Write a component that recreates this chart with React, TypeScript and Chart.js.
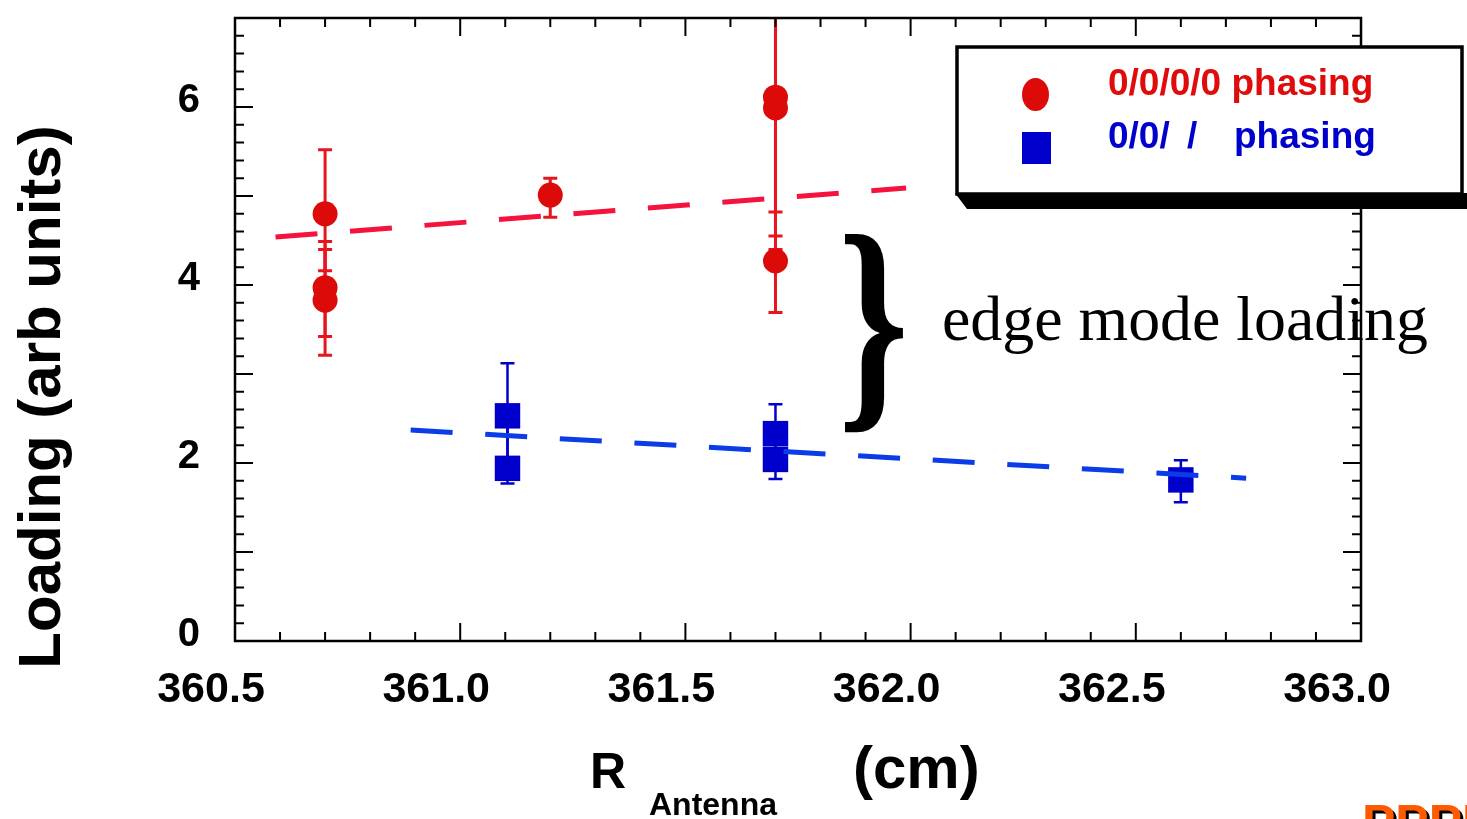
import React, { useEffect, useRef } from 'react';
import { Chart, registerables } from 'chart.js';

Chart.register(...registerables);

// ---- data ----
const redR = [360.70, 360.70, 360.70, 361.20, 361.70, 361.70, 361.70];
const redLoading = [4.80, 3.97, 3.83, 5.01, 6.11, 5.99, 4.27];
const redErrLow = [4.16, 3.42, 3.21, 4.76, 4.55, 4.40, 3.69];
const redErrHigh = [5.52, 4.49, 4.40, 5.20, 7.60, 7.60, 4.82];

const blueR = [361.105, 361.105, 361.70, 361.70, 362.60];
const blueLoading = [2.53, 1.94, 2.33, 2.04, 1.81];
const blueErrLow = [1.94, 1.77, 2.04, 1.82, 1.56];
const blueErrHigh = [3.12, 2.53, 2.66, 2.33, 2.03];

const redFitR = [360.59, 361.99];
const redFitLoading = [4.54, 5.09];
const blueFitR = [360.89, 362.745];
const blueFitLoading = [2.37, 1.83];

const xMin = 360.5;
const xMax = 363.0;
const xLabelStep = 0.5;
const xMinorStep = 0.1;
const yMin = 0;
const yMax = 7;
const yLabelValues = [0, 2, 4, 6];
const yMinorStep = 0.2;

const yTitle = 'Loading (arb units)';
const xTitleMain = 'R';
const xTitleSub = 'Antenna';
const xTitleUnit = '(cm)';
const legendRed = '0/0/0/0 phasing';
const legendBlueParts = ['0/0/', '/', 'phasing'];
const annotationText = 'edge mode loading';
const logoText = 'PPPL';

const RED_PT = '#dd0a0a';
const RED_LINE = '#f5123c';
const BLUE_PT = '#0000cc';
const BLUE_LINE = '#0a3ce8';
const SANS = '"Liberation Sans", Arial, sans-serif';
const SERIF = '"Liberation Serif", "Times New Roman", serif';

const mkPts = (xs: number[], ys: number[], lo?: number[], hi?: number[]) =>
  xs.map((x, i) => ({ x, y: ys[i], yMin: lo ? lo[i] : ys[i], yMax: hi ? hi[i] : ys[i] }));

const decorPlugin = {
  id: 'decor',
  beforeDatasetsDraw(chart: any) {
    const { ctx, chartArea: ca, scales } = chart;
    const xs = scales.x;
    const ys = scales.y;
    ctx.save();
    ctx.beginPath();
    ctx.rect(ca.left, ca.top, ca.right - ca.left, ca.bottom - ca.top);
    ctx.clip();
    chart.data.datasets.forEach((ds: any) => {
      if (!ds.errorBars) return;
      ctx.strokeStyle = ds.errColor;
      ctx.lineWidth = ds.errWidth;
      const cw = 7;
      ds.data.forEach((p: any) => {
        const px = xs.getPixelForValue(p.x);
        const lo = ys.getPixelForValue(p.yMin);
        const hi = ys.getPixelForValue(p.yMax);
        ctx.beginPath();
        ctx.moveTo(px, lo);
        ctx.lineTo(px, hi);
        ctx.moveTo(px - cw, lo);
        ctx.lineTo(px + cw, lo);
        ctx.moveTo(px - cw, hi);
        ctx.lineTo(px + cw, hi);
        ctx.stroke();
      });
    });
    ctx.restore();
  },
  afterDraw(chart: any) {
    const { ctx, chartArea: ca, scales } = chart;
    const xs = scales.x;
    const ys = scales.y;
    ctx.save();
    // frame
    ctx.strokeStyle = '#000';
    ctx.lineWidth = 2.5;
    ctx.strokeRect(ca.left, ca.top, ca.right - ca.left, ca.bottom - ca.top);
    // ticks
    ctx.lineWidth = 2;
    ctx.beginPath();
    const nx = Math.round((xMax - xMin) / xMinorStep);
    for (let i = 0; i <= nx; i++) {
      const px = xs.getPixelForValue(xMin + i * xMinorStep);
      const L = i % 5 === 0 ? 18 : 9;
      ctx.moveTo(px, ca.bottom);
      ctx.lineTo(px, ca.bottom - L);
      ctx.moveTo(px, ca.top);
      ctx.lineTo(px, ca.top + L);
    }
    const ny = Math.round((yMax - yMin) / yMinorStep);
    for (let i = 0; i <= ny; i++) {
      const py = ys.getPixelForValue(yMin + i * yMinorStep);
      const L = i % 5 === 0 ? 18 : 9;
      ctx.moveTo(ca.left, py);
      ctx.lineTo(ca.left + L, py);
      ctx.moveTo(ca.right, py);
      ctx.lineTo(ca.right - L, py);
    }
    ctx.stroke();

    // y title
    ctx.fillStyle = '#000';
    ctx.save();
    ctx.translate(60, 397);
    ctx.rotate(-Math.PI / 2);
    ctx.font = `bold 60px ${SANS}`;
    ctx.textAlign = 'center';
    ctx.textBaseline = 'alphabetic';
    ctx.fillText(yTitle, 0, 0);
    ctx.restore();

    // x title
    ctx.textAlign = 'left';
    ctx.textBaseline = 'alphabetic';
    ctx.font = `bold 50px ${SANS}`;
    ctx.fillText(xTitleMain, 590, 788);
    ctx.font = `bold 32px ${SANS}`;
    ctx.fillText(xTitleSub, 649, 815);
    ctx.font = `bold 60px ${SANS}`;
    ctx.fillText(xTitleUnit, 853, 788);

    // brace
    ctx.save();
    ctx.font = `bold 232px ${SERIF}`;
    const bm = ctx.measureText('}');
    const bw = bm.actualBoundingBoxLeft + bm.actualBoundingBoxRight;
    const bh = bm.actualBoundingBoxAscent + bm.actualBoundingBoxDescent;
    ctx.translate(845, 234);
    ctx.scale(58 / bw, 198 / bh);
    ctx.fillText('}', bm.actualBoundingBoxLeft, bm.actualBoundingBoxAscent);
    ctx.restore();

    // annotation
    ctx.font = `63px ${SERIF}`;
    const aw = ctx.measureText(annotationText).width;
    const asz = 63 * 486 / aw;
    ctx.font = `${asz}px ${SERIF}`;
    ctx.fillText(annotationText, 942, 340);

    // legend box
    ctx.fillStyle = '#000';
    ctx.beginPath();
    ctx.moveTo(955, 193);
    ctx.lineTo(967, 209);
    ctx.lineTo(1480, 209);
    ctx.lineTo(1480, 193);
    ctx.closePath();
    ctx.fill();
    ctx.fillStyle = '#fff';
    ctx.fillRect(957, 47, 505, 147);
    ctx.strokeStyle = '#000';
    ctx.lineWidth = 3.5;
    ctx.strokeRect(957, 47, 505, 147);
    // legend markers
    ctx.fillStyle = RED_PT;
    ctx.beginPath();
    ctx.ellipse(1035.5, 94.5, 13.5, 16.5, 0, 0, Math.PI * 2);
    ctx.fill();
    ctx.fillStyle = BLUE_PT;
    ctx.fillRect(1022, 132, 29, 32);
    // legend text
    ctx.font = `bold 37px ${SANS}`;
    ctx.fillStyle = '#e00c0c';
    ctx.fillText(legendRed, 1108, 95);
    ctx.fillStyle = BLUE_PT;
    ctx.fillText(legendBlueParts[0], 1108, 148);
    ctx.fillText(legendBlueParts[1], 1187, 148);
    ctx.fillText(legendBlueParts[2], 1234, 148);

    // logo (cut off at bottom)
    ctx.font = `bold 50px ${SANS}`;
    ctx.textBaseline = 'alphabetic';
    const lm = ctx.measureText(logoText);
    const ly = 805 + lm.actualBoundingBoxAscent;
    ctx.fillStyle = '#000';
    ctx.fillText(logoText, 1365, ly + 3);
    ctx.fillStyle = '#ff5a00';
    ctx.fillText(logoText, 1362, ly);
    ctx.restore();
  },
};

export default function App() {
  const ref = useRef<HTMLCanvasElement | null>(null);
  useEffect(() => {
    document.body.style.margin = '0';
    document.body.style.overflow = 'hidden';
    const canvas = ref.current!;
    const chart = new Chart(canvas, {
      type: 'scatter',
      data: {
        datasets: [
          {
            label: 'red fit',
            type: 'line',
            data: mkPts(redFitR, redFitLoading),
            borderColor: RED_LINE,
            borderWidth: 5,
            borderDash: [42, 32.7],
            pointRadius: 0,
            showLine: true,
            fill: false,
            order: 0,
          } as any,
          {
            label: 'blue fit',
            type: 'line',
            data: mkPts(blueFitR, blueFitLoading),
            borderColor: BLUE_LINE,
            borderWidth: 5,
            borderDash: [42, 32.7],
            pointRadius: 0,
            showLine: true,
            fill: false,
            order: 0,
          } as any,
          {
            label: legendRed,
            data: mkPts(redR, redLoading, redErrLow, redErrHigh),
            backgroundColor: RED_PT,
            borderColor: RED_PT,
            borderWidth: 0,
            pointStyle: 'circle',
            pointRadius: 12.5,
            errorBars: true,
            errColor: '#e8141e',
            errWidth: 3,
            order: 1,
          } as any,
          {
            label: legendBlueParts.join(' '),
            data: mkPts(blueR, blueLoading, blueErrLow, blueErrHigh),
            backgroundColor: BLUE_PT,
            borderColor: BLUE_PT,
            borderWidth: 0,
            pointStyle: 'rect',
            pointRadius: 18,
            errorBars: true,
            errColor: BLUE_PT,
            errWidth: 2.5,
            order: 1,
          } as any,
        ],
      },
      options: {
        animation: false,
        responsive: false,
        maintainAspectRatio: false,
        events: [],
        layout: { padding: { left: 0, top: 12, right: 106, bottom: 0 } },
        plugins: {
          legend: { display: false },
          tooltip: { enabled: false },
        },
        scales: {
          x: {
            type: 'linear',
            min: xMin,
            max: xMax,
            grid: { display: false, drawTicks: false },
            border: { display: false },
            afterFit: (s: any) => {
              s.height = 178;
              s.paddingLeft = 0;
              s.paddingRight = 0;
            },
            ticks: {
              stepSize: xLabelStep,
              autoSkip: false,
              maxRotation: 0,
              padding: 23,
              labelOffset: -24,
              color: '#000',
              font: { family: SANS, weight: 'bold', size: 43 },
              callback: (v: any) => Number(v).toFixed(1),
            },
          },
          y: {
            type: 'linear',
            min: yMin,
            max: yMax,
            grid: { display: false, drawTicks: false },
            border: { display: false },
            afterFit: (s: any) => {
              s.width = 235;
              s.paddingTop = 0;
              s.paddingBottom = 0;
            },
            ticks: {
              stepSize: 1,
              autoSkip: false,
              padding: 35,
              labelOffset: -6,
              color: '#000',
              font: { family: SANS, weight: 'bold', size: 40 },
              callback: (v: any) => (yLabelValues.includes(Number(v)) ? String(v) : ''),
            },
          },
        },
      } as any,
      plugins: [decorPlugin as any],
    });
    return () => chart.destroy();
  }, []);
  return (
    <canvas
      ref={ref}
      width={1467}
      height={819}
      style={{ display: 'block', width: 1467, height: 819 }}
    />
  );
}
